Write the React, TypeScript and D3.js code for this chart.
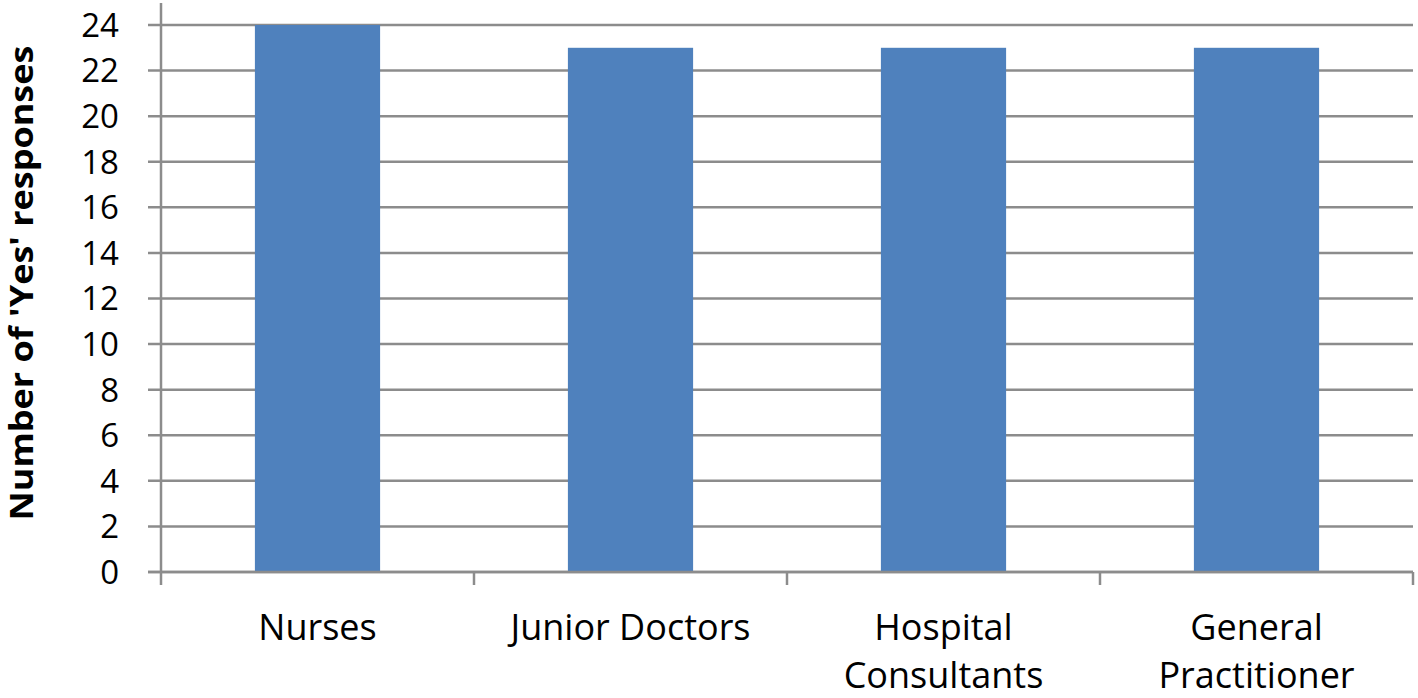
import React from "react";
import * as d3 from "d3";

const categories: string[][] = [["Nurses"], ["Junior Doctors"], ["Hospital", "Consultants"], ["General", "Practitioner"]];
const values: number[] = [24, 23, 23, 23];
const yTicks: number[] = [0, 2, 4, 6, 8, 10, 12, 14, 16, 18, 20, 22, 24];
const yTitle = "Number of 'Yes' responses";

export default function App() {
  const W = 1418, H = 698;
  const left = 161, right = 1413, top = 25, bottom = 572;
  const x = d3.scaleBand<number>().domain(categories.map((_, i) => i)).range([left, right]).paddingInner(0.6).paddingOuter(0.3);
  const xb = d3.scaleBand<number>().domain(categories.map((_, i) => i)).range([left, right]);
  const y = d3.scaleLinear().domain([0, 24]).range([bottom, top]);
  const font = "'Open Sans', sans-serif";
  const grid = "#8c8c8c";
  return (
    <svg width={W} height={H} style={{ position: "absolute", left: 0, top: 0, background: "#fff" }}>
      {yTicks.map((t) => (
        <g key={t}>
          <line x1={148} x2={right} y1={y(t)} y2={y(t)} stroke={grid} strokeWidth={2.5} />
          <text x={119} y={y(t)} dy="0.36em" textAnchor="end" fontFamily={font} fontSize={33} fill="#000">{t}</text>
        </g>
      ))}
      {values.map((v, i) => (
        <rect key={i} x={x(i)} y={y(v)} width={x.bandwidth()} height={bottom - y(v)} fill="#4F81BD" />
      ))}
      <line x1={left} x2={left} y1={3} y2={bottom + 13} stroke={grid} strokeWidth={2.5} />
      <line x1={148} x2={right} y1={bottom} y2={bottom} stroke={grid} strokeWidth={2.5} />
      {categories.map((_, i) => (
        <line key={"t" + i} x1={(xb(i) as number) + xb.bandwidth()} x2={(xb(i) as number) + xb.bandwidth()} y1={bottom} y2={bottom + 13} stroke={grid} strokeWidth={2.5} />
      ))}
      {categories.map((lines, i) => (
        <text key={"c" + i} x={(xb(i) as number) + xb.bandwidth() / 2} textAnchor="middle" fontFamily={font} fontSize={36} fill="#000">
          {lines.map((l, j) => (
            <tspan key={j} x={(xb(i) as number) + xb.bandwidth() / 2} y={640 + j * 48}>{l}</tspan>
          ))}
        </text>
      ))}
      <text transform={`translate(33, 283) rotate(-90) scale(1, 0.88)`} textAnchor="middle" fontFamily={font} fontWeight="bold" fontSize={36} fill="#000">{yTitle}</text>
    </svg>
  );
}
